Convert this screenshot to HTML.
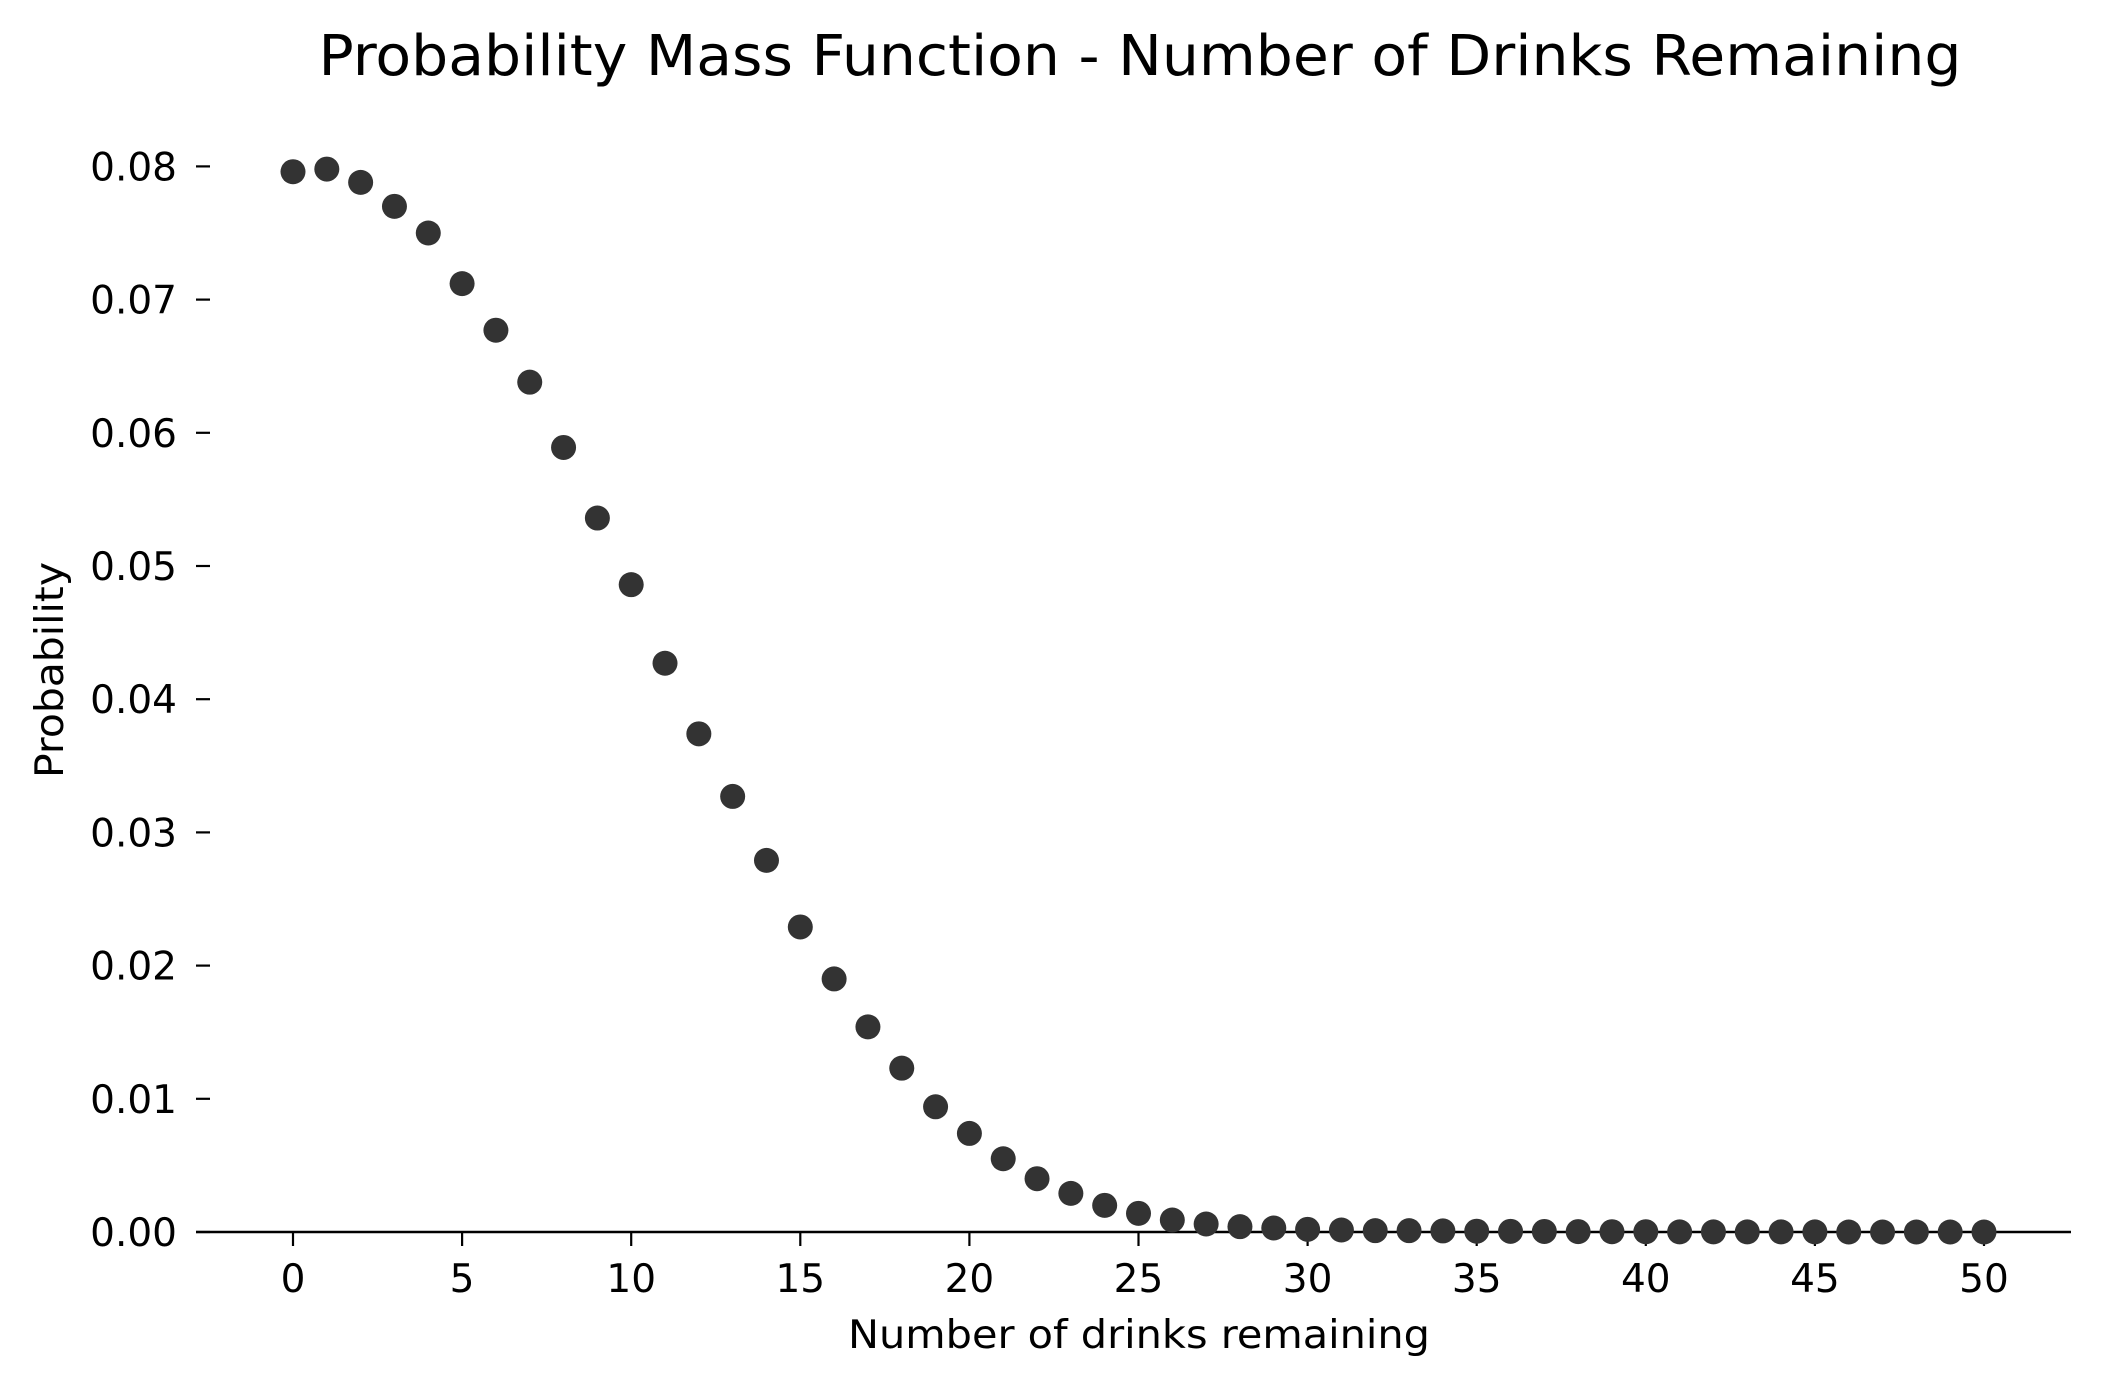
<!DOCTYPE html>
<html><head><meta charset="utf-8"><style>html,body{margin:0;padding:0;background:#fff}svg{display:block}</style></head>
<body>
<svg id="chart" width="2102" height="1388" xmlns="http://www.w3.org/2000/svg" font-family="'DejaVu Sans','Liberation Sans',sans-serif">
<text x="1140" y="75" font-size="56" text-anchor="middle" textLength="1643" lengthAdjust="spacingAndGlyphs">Probability Mass Function - Number of Drinks Remaining</text>
<text x="1139" y="1348" font-size="39" text-anchor="middle" textLength="582" lengthAdjust="spacingAndGlyphs">Number of drinks remaining</text>
<text transform="translate(63,670) rotate(-90)" font-size="39" text-anchor="middle" textLength="216" lengthAdjust="spacingAndGlyphs">Probability</text>
<g id="axes"></g>
<g id="points"></g>
</svg>
<script>
const drinks = [];
for (let i = 0; i <= 50; i++) drinks.push(i);
const probs = [0.0796,0.0798,0.0788,0.0770,0.0750,0.0712,0.0677,0.0638,0.0589,0.0536,
0.0486,0.0427,0.0374,0.0327,0.0279,0.0229,0.0190,0.0154,0.0123,0.0094,
0.0074,0.0055,0.0040,0.0029,0.0020,0.0014,0.0009,0.0006,0.0004,0.0003,
0.0002,0.00015,0.0001,0.0001,0.00008,0.00006,0.00005,0.00004,0.00003,0.00002,
0.00002,0.00001,0.00001,0.00001,0.00001,0.00001,0,0,0,0,0];
const xTicks = [0,5,10,15,20,25,30,35,40,45,50];
const yTicks = [0,0.01,0.02,0.03,0.04,0.05,0.06,0.07,0.08];
const yTickLabels = ["0.00","0.01","0.02","0.03","0.04","0.05","0.06","0.07","0.08"];

const NS = "http://www.w3.org/2000/svg";
function xS(v){ return 293 + v * 33.82; }
function yS(v){ return 1232 - v * 13320; }
const axes = document.getElementById('axes');
const pts = document.getElementById('points');
function mk(tag, attrs, parent){ const e=document.createElementNS(NS,tag); for(const k in attrs) e.setAttribute(k,attrs[k]); parent.appendChild(e); return e; }

const spine = mk('line',{x1:196,x2:2071,y1:1232,y2:1232,stroke:'#000','stroke-width':2.6},axes);



xTicks.forEach(t => {
  const tk = mk('line',{x1:xS(t),x2:xS(t),y1:1232,y2:1246,stroke:'#000','stroke-width':2.2},axes);
  
  
  const lb = mk('text',{x:xS(t),y:1292,'font-size':39,'text-anchor':'middle'},axes);
  lb.textContent = String(t);
  
  
});
yTicks.forEach((t,i) => {
  const tk = mk('line',{x1:196,x2:210,y1:yS(t),y2:yS(t),stroke:'#000','stroke-width':2.2},axes);
  
  
  const lb = mk('text',{x:177,y:yS(t)+14,'font-size':39,'text-anchor':'end'},axes);
  lb.textContent = yTickLabels[i];
  
  
});
drinks.forEach((d,i) => {
  const c = mk('circle',{cx:xS(d),cy:yS(probs[i]),r:12.5,fill:'#333333'},pts);
  
  
});
</script>
</body></html>
